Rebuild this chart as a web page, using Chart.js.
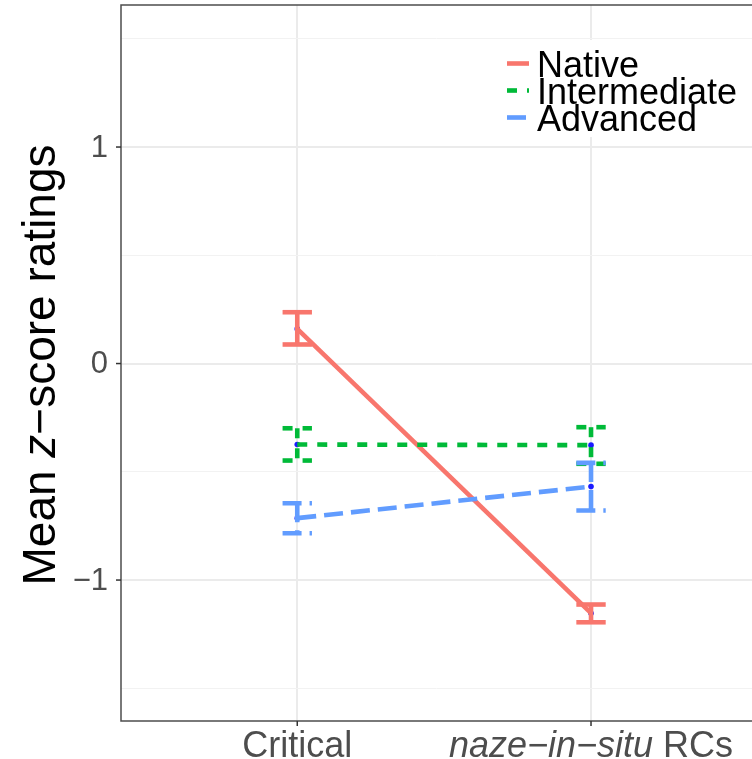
<!DOCTYPE html>
<html>
<head>
<meta charset="utf-8">
<script src="https://cdn.jsdelivr.net/npm/chart.js@4/dist/chart.umd.min.js"></script>
<style>
html,body{margin:0;padding:0;background:#fff;overflow:hidden;}
canvas{display:block;}
</style>
</head>
<body>
<canvas id="c" width="752" height="759"></canvas>
<script>
// ---- data ----
const categories = ['Critical', 'naze\u2212in\u2212situ RCs'];
const categoryItalicPrefix = ['', 'naze\u2212in\u2212situ'];
const groups = ['Native', 'Intermediate', 'Advanced'];
const nativeMean = [0.160, -1.153];
const nativeLow = [0.088, -1.195];
const nativeHigh = [0.237, -1.113];
const intermediateMean = [-0.374, -0.377];
const intermediateLow = [-0.448, -0.463];
const intermediateHigh = [-0.299, -0.294];
const advancedMean = [-0.714, -0.568];
const advancedLow = [-0.784, -0.679];
const advancedHigh = [-0.645, -0.459];
const yMajorTicks = [-1, 0, 1];
const yMinorTicks = [-1.5, -0.5, 0.5, 1.5];
const yTickLabels = ['\u22121', '0', '1'];
const yTitleParts = [['Mean ', false], ['z', true], ['\u2212score ratings', false]];

// ---- styles ----
const colors = ['#F8766D', '#00BA38', '#619CFF'];
const dashes = [[], [10, 10], [19, 8]];
const LW = 4.6;
const FONT = '"Liberation Sans", Arial, Helvetica, sans-serif';

const series = [
  {mean: nativeMean, low: nativeLow, high: nativeHigh},
  {mean: intermediateMean, low: intermediateLow, high: intermediateHigh},
  {mean: advancedMean, low: advancedLow, high: advancedHigh}
];

const lineSets = series.map((s, g) => ({
  label: groups[g],
  data: s.mean.map((v, i) => ({x: i, y: v})),
  showLine: true,
  borderColor: colors[g],
  backgroundColor: colors[g],
  borderWidth: LW,
  borderDash: dashes[g],
  borderCapStyle: 'butt',
  pointRadius: 0,
  order: 2 - g
}));
const pointSets = series.map((s, g) => ({
  label: groups[g] + ' points',
  data: s.mean.map((v, i) => ({x: i, y: v})),
  showLine: false,
  pointRadius: 2.8,
  pointBorderWidth: 0,
  pointBackgroundColor: '#1a1aff',
  order: 10
}));

const decor = {
  id: 'decor',
  afterDatasetsDraw(chart) {
    const {ctx, scales: {x, y}} = chart;
    series.forEach((s, g) => {
      ctx.save();
      ctx.strokeStyle = colors[g];
      ctx.lineWidth = LW;
      ctx.lineCap = 'butt';
      ctx.setLineDash(dashes[g]);
      s.mean.forEach((m, i) => {
        const px = x.getPixelForValue(i);
        const l = x.getPixelForValue(i - 0.05), r = x.getPixelForValue(i + 0.05);
        const t = y.getPixelForValue(s.high[i]), b = y.getPixelForValue(s.low[i]);
        ctx.beginPath(); ctx.moveTo(l, t); ctx.lineTo(r, t); ctx.stroke();
        ctx.beginPath(); ctx.moveTo(px, t); ctx.lineTo(px, b); ctx.stroke();
        ctx.beginPath(); ctx.moveTo(l, b); ctx.lineTo(r, b); ctx.stroke();
      });
      ctx.restore();
    });
  },
  afterDraw(chart) {
    const {ctx, chartArea: a, scales: {x, y}} = chart;
    ctx.save();
    // panel border (left, top, bottom; right side is cropped)
    ctx.strokeStyle = '#4d4d4d';
    ctx.lineWidth = 1.5;
    ctx.beginPath();
    ctx.moveTo(a.right + 5, a.top); ctx.lineTo(a.left, a.top);
    ctx.lineTo(a.left, a.bottom); ctx.lineTo(a.right + 5, a.bottom);
    ctx.stroke();
    // tick marks
    ctx.strokeStyle = '#333333';
    ctx.lineWidth = 1.5;
    yMajorTicks.forEach(v => {
      const py = y.getPixelForValue(v);
      ctx.beginPath(); ctx.moveTo(a.left - 5, py); ctx.lineTo(a.left, py); ctx.stroke();
    });
    categories.forEach((c, i) => {
      const px = x.getPixelForValue(i);
      ctx.beginPath(); ctx.moveTo(px, a.bottom); ctx.lineTo(px, a.bottom + 5); ctx.stroke();
    });
    // y tick labels
    ctx.fillStyle = '#4d4d4d';
    ctx.font = '31px ' + FONT;
    ctx.textAlign = 'right';
    ctx.textBaseline = 'middle';
    yMajorTicks.forEach((v, k) => {
      ctx.fillText(yTickLabels[k], 108, y.getPixelForValue(v) + 1);
    });
    // x tick labels (italic prefix + normal rest)
    ctx.textBaseline = 'alphabetic';
    ctx.textAlign = 'left';
    categories.forEach((c, i) => {
      const it = categoryItalicPrefix[i];
      const rest = c.slice(it.length);
      ctx.font = 'italic 36px ' + FONT;
      const w1 = it ? ctx.measureText(it).width : 0;
      ctx.font = '36px ' + FONT;
      const w2 = ctx.measureText(rest).width;
      let sx = x.getPixelForValue(i) - (w1 + w2) / 2;
      if (it) { ctx.font = 'italic 36px ' + FONT; ctx.fillText(it, sx, 757); sx += w1; }
      ctx.font = '36px ' + FONT;
      ctx.fillText(rest, sx, 757);
    });
    // y axis title
    ctx.fillStyle = '#000';
    ctx.translate(55, 365);
    ctx.rotate(-Math.PI / 2);
    let total = 0;
    const widths = yTitleParts.map(([t, ital]) => {
      ctx.font = (ital ? 'italic ' : '') + '46px ' + FONT;
      const w = ctx.measureText(t).width; total += w; return w;
    });
    let tx = -total / 2;
    yTitleParts.forEach(([t, ital], k) => {
      ctx.font = (ital ? 'italic ' : '') + '46px ' + FONT;
      ctx.fillText(t, tx, 0);
      tx += widths[k];
    });
    ctx.restore();

    // legend
    ctx.save();
    ctx.fillStyle = '#fff';
    ctx.fillRect(497, 40, 260, 97);
    groups.forEach((gname, g) => {
      const ky = 63.5 + g * 27;
      ctx.strokeStyle = colors[g];
      ctx.lineWidth = LW;
      ctx.setLineDash(dashes[g]);
      ctx.beginPath(); ctx.moveTo(507, ky); ctx.lineTo(529, ky); ctx.stroke();
    });
    ctx.setLineDash([]);
    ctx.fillStyle = '#000';
    ctx.font = '36px ' + FONT;
    ctx.textAlign = 'left';
    ctx.textBaseline = 'alphabetic';
    groups.forEach((gname, g) => {
      ctx.fillText(gname, 537, 63.5 + g * 27 + 13);
    });
    ctx.restore();
  }
};

new Chart(document.getElementById('c'), {
  type: 'scatter',
  data: {datasets: [...lineSets, ...pointSets]},
  options: {
    responsive: false,
    animation: false,
    devicePixelRatio: 1,
    layout: {autoPadding: false, padding: {left: 121, top: 5, right: 0, bottom: 38}},
    plugins: {legend: {display: false}, tooltip: {enabled: false}},
    scales: {
      x: {
        type: 'linear', min: -0.6, max: 1.548,
        afterBuildTicks: s => { s.ticks = categories.map((c, i) => ({value: i})); },
        afterFit: s => { s.height = 0; },
        ticks: {display: false},
        border: {display: false},
        grid: {color: '#ebebeb', lineWidth: 2, drawTicks: false}
      },
      y: {
        type: 'linear', min: -1.651, max: 1.656,
        afterBuildTicks: s => { s.ticks = [...yMinorTicks, ...yMajorTicks].sort((p, q) => p - q).map(v => ({value: v})); },
        afterFit: s => { s.width = 0; },
        ticks: {display: false},
        border: {display: false},
        grid: {
          drawTicks: false,
          color: c => yMinorTicks.includes(c.tick.value) ? '#f2f2f2' : '#ebebeb',
          lineWidth: c => yMinorTicks.includes(c.tick.value) ? 1 : 2
        }
      }
    }
  },
  plugins: [decor]
});
</script>
</body>
</html>
